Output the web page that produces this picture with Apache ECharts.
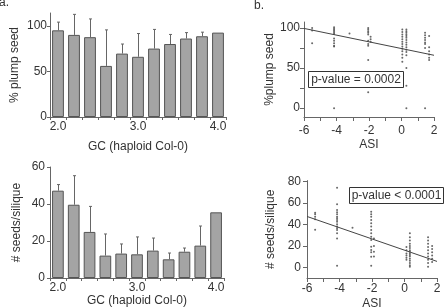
<!DOCTYPE html>
<html><head><meta charset="utf-8">
<script src="https://cdn.jsdelivr.net/npm/echarts@6/dist/echarts.min.js"></script>
<style>html,body{margin:0;padding:0;background:#fff}#c{width:445px;height:308px}</style>
</head><body><div id="c"></div>
<script>
// ---- data ----
const gcCategories = ['2.0','2.2','2.4','2.6','2.8','3.0','3.2','3.4','3.6','3.8','4.0'];
const plumpMean   = [95, 90, 87.5, 56, 69.5, 66, 75, 80, 86, 88.5, 92.5];
const plumpErrTop = [104, 112.5, 107.5, 95.5, 80, 91.5, 96, 90.5, 92.5, 93, null];
const seedsMean   = [47.2, 39.6, 24.9, 12.1, 13.2, 12.8, 14.8, 10.1, 14.2, 17.5, 35.5];
const seedsErrTop = [50.5, 55.3, 38.7, 23.8, 18.4, 22.2, 21.6, 13.5, 16.2, 28.1, null];

const asiPlumpX = [
  -5.5,-5.5,-5.5,
  -4.15,-4.15,-4.15,-4.15,-4.15,-4.15,-4.15,-4.15,-4.15,-4.15,-4.15,-4.15,
  -3.2,
  -2.05,-2.05,-2.05,-2.05,-2.05,-2.05,-2.05,-2.05,-2.05,-2.05,
  -1.9,-1.9,-1.9,
  0.05,0.05,0.05,0.05,0.05,0.05,0.05,0.05,0.05,0.05,0.05,0.05,0.05,
  0.3,0.3,0.3,0.3,0.3,0.3,0.3,0.3,0.3,0.3,0.3,0.3,0.3,0.3,0.3,0.3,
  1.45,1.45,1.45,1.45,1.45,1.45,1.45,1.45,
  1.7,1.7,1.7,1.7,1.7,1.7
];
const asiPlumpY = [
  100,97,81,
  101,99,97.5,96,94,92.5,87,84,81,78,77,0,
  93,
  100,98,96,94,92,84,80,78,60,20,
  89,86,83,
  98,95,92,89,86,83,80,77,74,71,67,63,58,
  98,96,94,92,90,88,85,82,79,76,73,70,66,50,28,0,
  94,91,88,85,82,80,75,0,
  90,76,71,67,63,60
];
const asiSeedsX = [
  -5.5,-5.5,-5.5,-5.5,-5.5,
  -4.15,-4.15,-4.15,-4.15,-4.15,-4.15,-4.15,-4.15,-4.15,-4.15,-4.15,-4.15,-4.15,-4.15,-4.15,-4.15,
  -3.2,
  -2.05,-2.05,-2.05,-2.05,-2.05,-2.05,-2.05,-2.05,-2.05,-2.05,-2.05,-2.05,-2.05,-2.05,-2.05,
  -1.88,-1.88,-1.88,-1.88,
  0.12,0.12,0.12,0.12,0.12,0.12,
  0.33,0.33,0.33,0.33,0.33,0.33,0.33,0.33,0.33,0.33,0.33,0.33,0.33,0.33,0.33,0.33,
  1.45,1.45,1.45,1.45,1.45,1.45,1.45,1.45,1.45,1.45,
  1.7,1.7,1.7,1.7,1.7,1.7
];
const asiSeedsY = [
  51,49.5,47.3,45,35,
  74.4,58.9,53.6,51.4,49.5,47.3,45.8,44.2,42.6,40.2,38,36.4,34.9,31.8,27,1.5,
  37,
  52,49.5,47.3,44.2,41.1,38,34.9,31.8,28.6,25.5,19.3,16.2,14,9.9,1.5,
  27,20,14.6,10,
  19,16,13,11,9,7,
  31.8,28,25,22,20,18,16,14.5,13,11.5,10,8,6,4,2,0.6,
  28,25,22,19,16,13,10,7,4,0.6,
  20,17,14,11,8,5
];
const fitPlumpX = [-6, 2];
const fitPlumpY = [99.5, 66];
const fitSeedsX = [-6, 2];
const fitSeedsY = [47.5, 5.5];

const plumpLabelVals = [0, 50, 100];
const seedsLabelVals = [0, 20, 40, 60];
const asiLabelVals = [-6, -4, -2, 0, 2];
const asiTickVals = [-6, -5, -4, -3, -2, -1, 0, 1, 2];
const plumpScatterLabelVals = [0, 50, 100];
const plumpScatterTickVals = [0, 25, 50, 75, 100];
const seedsScatterVals = [0, 20, 40, 60, 80];

// ---- chart ----
const FONT = 'Liberation Sans, Arial, sans-serif';
const TXT = '#333';
const AX = '#666';
const chart = echarts.init(document.getElementById('c'), null, {renderer: 'canvas'});

function zip(a, b) { return a.map((v, i) => [v, b[i]]); }
function errData(mean, top) {
  const out = [];
  mean.forEach((m, i) => { if (top[i] != null) out.push([i, m, top[i]]); });
  return out;
}
function errRender(params, api) {
  const x = api.value(0), lo = api.value(1), hi = api.value(2);
  const p0 = api.coord([x, lo]), p1 = api.coord([x, hi]);
  const cx = Math.round(p0[0]) + 0.5;
  return {type: 'group', children: [
    {type: 'line', shape: {x1: cx, y1: p0[1], x2: cx, y2: p1[1]}, style: {stroke: '#666', lineWidth: 1}},
    {type: 'line', shape: {x1: cx - 1.5, y1: p1[1], x2: cx + 1.5, y2: p1[1]}, style: {stroke: '#666', lineWidth: 1}}
  ]};
}
const axisCommon = {
  axisLine: {show: true, onZero: false, lineStyle: {color: AX, width: 1}},
  splitLine: {show: false},
  nameTextStyle: {fontSize: 12, color: TXT, fontFamily: FONT},
};
function lbl(margin, extra) {
  return Object.assign({fontSize: 12, color: TXT, fontFamily: FONT, margin: margin}, extra || {});
}

const option = {
  animation: false,
  backgroundColor: '#fff',
  grid: [
    {left: 50, top: 13, width: 176, height: 104, outerBoundsMode: 'none'},
    {left: 50, top: 167, width: 174, height: 111, outerBoundsMode: 'none'},
    {left: 304, top: 22, width: 130, height: 95, outerBoundsMode: 'none'},
    {left: 307, top: 180.6, width: 130, height: 97.4, outerBoundsMode: 'none'}
  ],
  xAxis: [
    Object.assign({}, axisCommon, {gridIndex: 0, type: 'category', data: gcCategories, boundaryGap: true,
      name: 'GC (haploid Col-0)', nameLocation: 'middle', nameGap: 24,
      axisTick: {show: true, length: 3, interval: 0, lineStyle: {color: AX}},
      axisLabel: lbl(4, {interval: 4})}),
    Object.assign({}, axisCommon, {gridIndex: 1, type: 'category', data: gcCategories, boundaryGap: true,
      name: 'GC (haploid Col-0)', nameLocation: 'middle', nameGap: 15,
      axisTick: {show: true, length: 3, interval: 0, lineStyle: {color: AX}},
      axisLabel: lbl(4, {interval: 4})}),
    Object.assign({}, axisCommon, {gridIndex: 2, type: 'value', min: -6, max: 2,
      name: 'ASI', nameLocation: 'middle', nameGap: 22,
      axisTick: {show: true, length: 4, customValues: asiTickVals, lineStyle: {color: AX}},
      axisLabel: lbl(8, {customValues: asiLabelVals})}),
    Object.assign({}, axisCommon, {gridIndex: 3, type: 'value', min: -6, max: 2,
      name: 'ASI', nameLocation: 'middle', nameGap: 20,
      axisTick: {show: true, length: 4, customValues: asiTickVals, lineStyle: {color: AX}},
      axisLabel: lbl(5, {customValues: asiLabelVals})})
  ],
  yAxis: [
    Object.assign({}, axisCommon, {gridIndex: 0, type: 'value', min: 0, max: 114,
      name: '% plump seed', nameLocation: 'middle', nameGap: 29,
      axisTick: {show: true, length: 3, customValues: plumpLabelVals, lineStyle: {color: AX}},
      axisLabel: lbl(3, {customValues: plumpLabelVals})}),
    Object.assign({}, axisCommon, {gridIndex: 1, type: 'value', min: 0, max: 60,
      name: '# seeds/silique', nameLocation: 'middle', nameGap: 27,
      axisTick: {show: true, length: 3, customValues: seedsLabelVals, lineStyle: {color: AX}},
      axisLabel: lbl(5, {customValues: seedsLabelVals})}),
    Object.assign({}, axisCommon, {gridIndex: 2, type: 'value', min: -11, max: 107.5,
      name: '%plump seed', nameLocation: 'middle', nameGap: 28,
      axisTick: {show: true, length: 4, customValues: plumpScatterTickVals, lineStyle: {color: AX}},
      axisLabel: lbl(4, {customValues: plumpScatterLabelVals})}),
    Object.assign({}, axisCommon, {gridIndex: 3, type: 'value', min: -10, max: 81,
      name: '# seeds/silique', nameLocation: 'middle', nameGap: 30,
      axisTick: {show: true, length: 4, customValues: seedsScatterVals, lineStyle: {color: AX}},
      axisLabel: lbl(6, {customValues: seedsScatterVals})})
  ],
  series: [
    {type: 'bar', xAxisIndex: 0, yAxisIndex: 0, data: plumpMean, barCategoryGap: '26%',
      itemStyle: {color: '#a4a4a4', borderColor: '#555', borderWidth: 1}},
    {type: 'custom', xAxisIndex: 0, yAxisIndex: 0, data: errData(plumpMean, plumpErrTop),
      renderItem: errRender, encode: {x: 0, y: [1, 2]}, z: 3},
    {type: 'bar', xAxisIndex: 1, yAxisIndex: 1, data: seedsMean, barCategoryGap: '26%',
      itemStyle: {color: '#a4a4a4', borderColor: '#555', borderWidth: 1}},
    {type: 'custom', xAxisIndex: 1, yAxisIndex: 1, data: errData(seedsMean, seedsErrTop),
      renderItem: errRender, encode: {x: 0, y: [1, 2]}, z: 3},
    {type: 'scatter', xAxisIndex: 2, yAxisIndex: 2, data: zip(asiPlumpX, asiPlumpY),
      symbol: 'circle', symbolSize: 2, itemStyle: {color: '#444'}},
    {type: 'line', xAxisIndex: 2, yAxisIndex: 2, data: zip(fitPlumpX, fitPlumpY),
      showSymbol: false, lineStyle: {color: '#444', width: 1}},
    {type: 'scatter', xAxisIndex: 3, yAxisIndex: 3, data: zip(asiSeedsX, asiSeedsY),
      symbol: 'circle', symbolSize: 2, itemStyle: {color: '#444'}},
    {type: 'line', xAxisIndex: 3, yAxisIndex: 3, data: zip(fitSeedsX, fitSeedsY),
      showSymbol: false, lineStyle: {color: '#444', width: 1}}
  ],
  graphic: [
    {type: 'text', x: -1, y: -3, style: {text: 'a.', font: '12px ' + FONT, fill: TXT}},
    {type: 'text', x: 254, y: 0, style: {text: 'b.', font: '12px ' + FONT, fill: TXT}},
    {type: 'rect', shape: {x: 308.5, y: 71.5, width: 95, height: 16}, style: {fill: '#fff', stroke: '#333', lineWidth: 1}, z: 10},
    {type: 'text', x: 356, y: 79.5, z: 11, style: {text: 'p-value = 0.0002', font: '12px ' + FONT, fill: TXT, align: 'center', verticalAlign: 'middle'}},
    {type: 'rect', shape: {x: 349.5, y: 187.5, width: 94, height: 16}, style: {fill: '#fff', stroke: '#333', lineWidth: 1}, z: 10},
    {type: 'text', x: 396.5, y: 195.5, z: 11, style: {text: 'p-value < 0.0001', font: '12px ' + FONT, fill: TXT, align: 'center', verticalAlign: 'middle'}}
  ]
};
chart.setOption(option);
</script></body></html>
